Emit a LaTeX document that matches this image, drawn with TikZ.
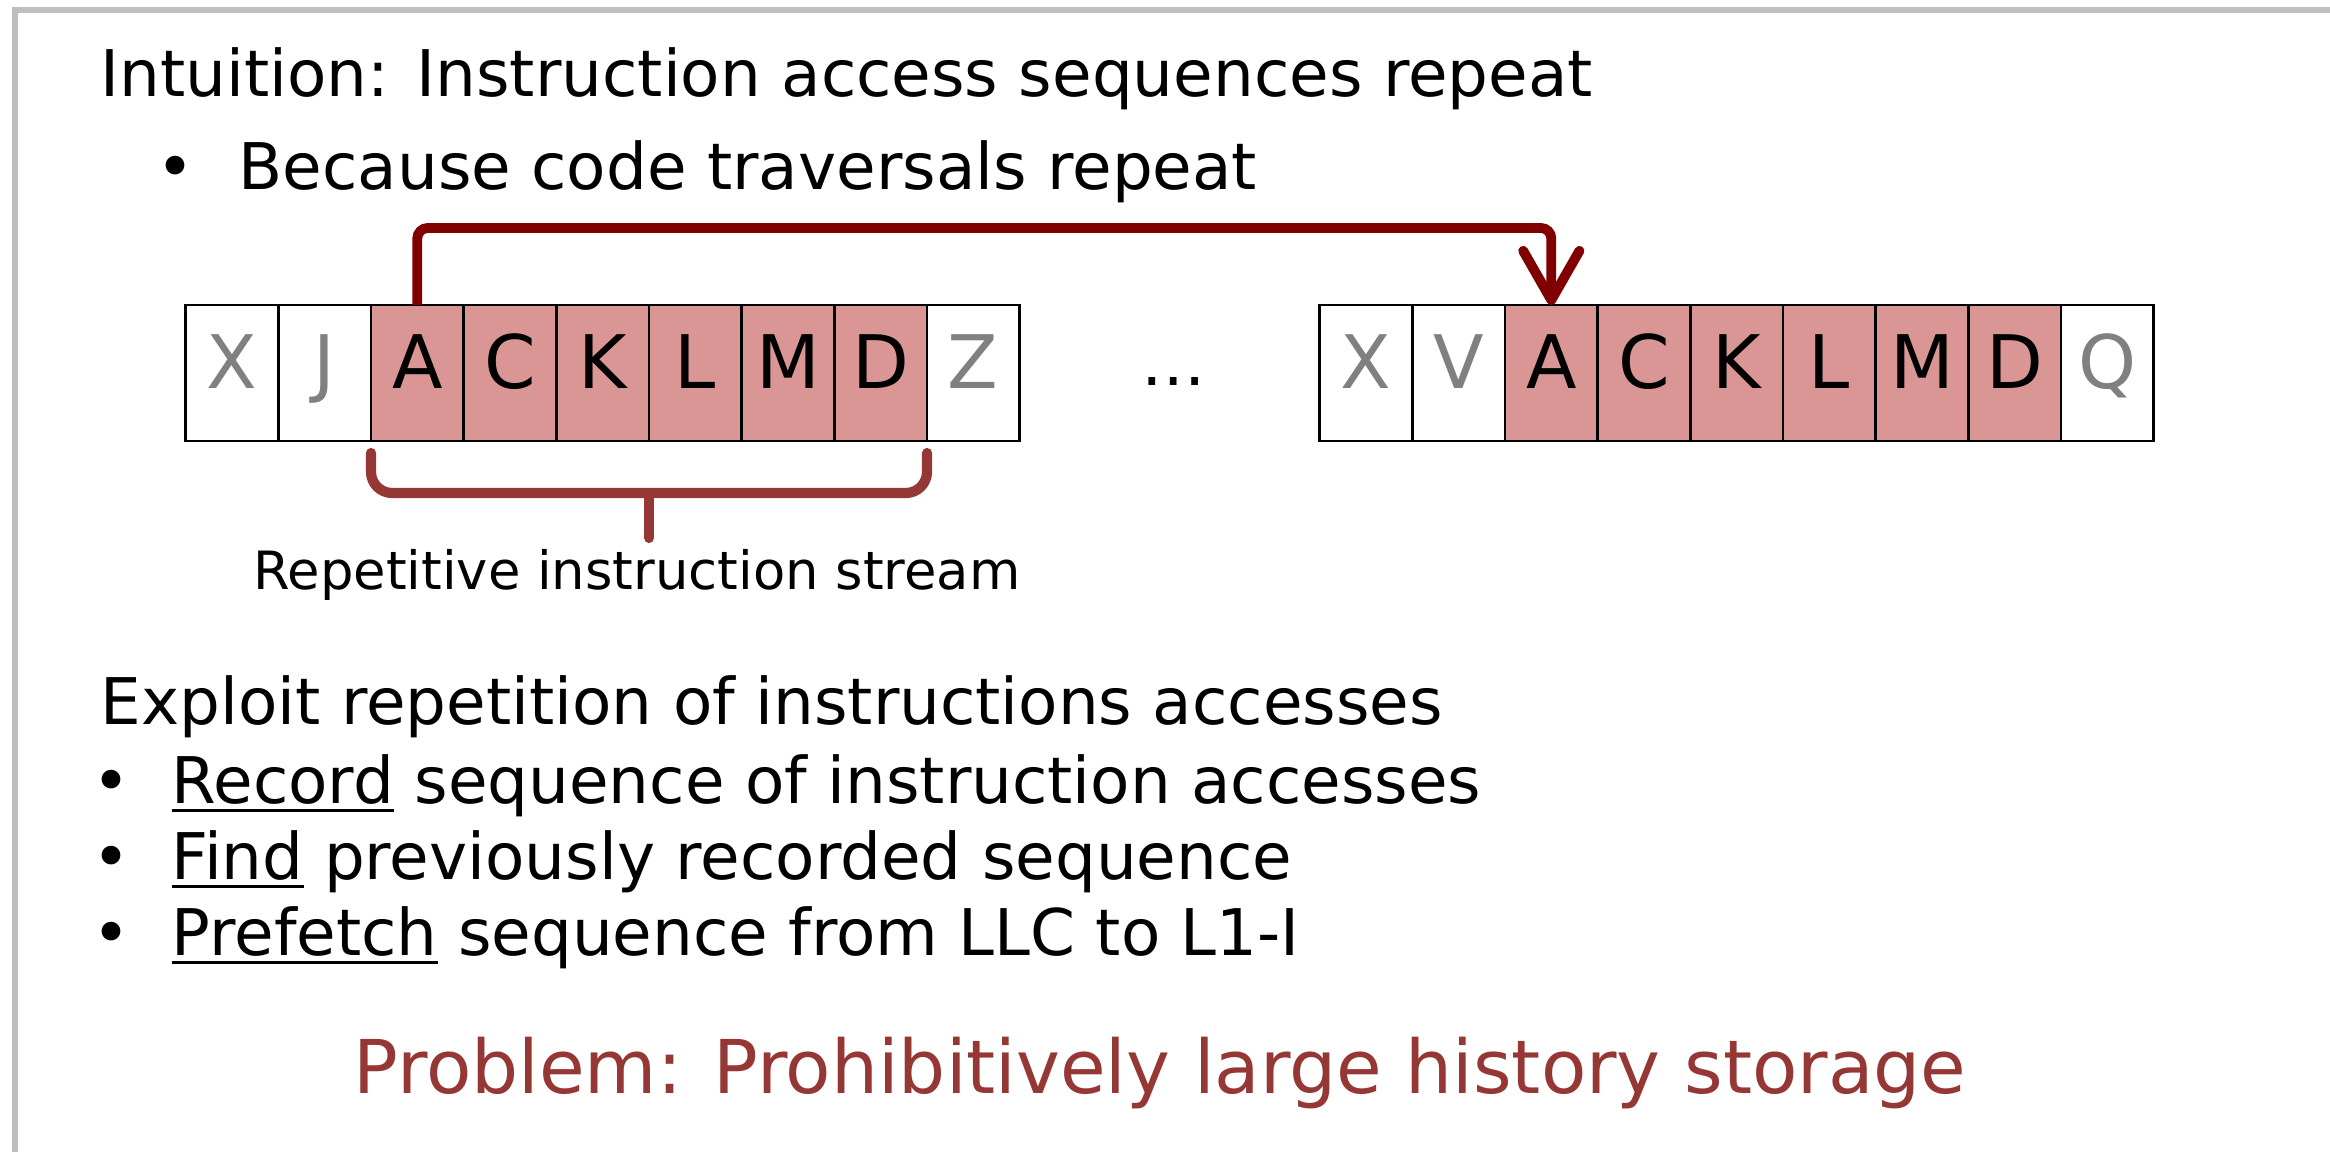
\documentclass[tikz,border=0pt]{standalone}
\usepackage{fontspec}
\setmainfont{DejaVu Sans}
\usetikzlibrary{positioning, arrows.meta}

\definecolor{hilite}{RGB}{217,150,148}
\definecolor{loopred}{RGB}{128,0,0}
\definecolor{bracered}{RGB}{149,55,53}
\definecolor{framegray}{RGB}{191,191,191}
\definecolor{dimgray}{RGB}{128,128,128}

\newcommand{\keyword}[1]{\setbox0\hbox{#1}\rlap{\rule[-0.09cm]{\wd0}{0.035cm}}\box0\relax}

\begin{document}
\begin{tikzpicture}[
        x=0.01cm, y=-0.01cm,
        cell/.style={draw, line width=0.8pt, minimum width=0.926cm, minimum height=1.36cm, inner sep=0pt, outer sep=0pt, text height=0.45cm, text depth=0.15cm, font=\fontsize{21}{25}\selectfont},
        seq/.style={cell, fill=hilite},
        other/.style={cell, fill=white, text=dimgray},
        body/.style={anchor=base west, inner sep=0pt, font=\fontsize{18.3}{22}\selectfont},
        loopback/.style={-{Straight Barb[length=14pt, width=16pt, round]}, line width=2.8pt, loopred, rounded corners=3pt},
        bracket/.style={line width=2.9pt, bracered, rounded corners=6pt, line cap=round}
    ]
        \useasboundingbox (0,0) rectangle (2330,1152);

        % Frame
        \draw[framegray, line width=1.5pt] (15,1152) -- (15,10) -- (2330,10);

        % Text
        \node[body] (intuition) at (100,97) {Intuition: Instruction access sequences repeat};
        \node[body] (because) at (238,190) {\llap{\textbullet\hspace{0.44cm}}Because code traversals repeat};

        % First access sequence
        \node[other] (a1) at (232,373) {X};
        \node[other, right=0pt of a1] (a2) {J};
        \node[seq, right=0pt of a2] (a3) {A};
        \node[seq, right=0pt of a3] (a4) {C};
        \node[seq, right=0pt of a4] (a5) {K};
        \node[seq, right=0pt of a5] (a6) {L};
        \node[seq, right=0pt of a6] (a7) {M};
        \node[seq, right=0pt of a7] (a8) {D};
        \node[other, right=0pt of a8] (a9) {Z};

        \node[body, anchor=base] (gap) at (1174,386) {…};

        % Repeated sequence
        \node[other] (b1) at (1366,373) {X};
        \node[other, right=0pt of b1] (b2) {V};
        \node[seq, right=0pt of b2] (b3) {A};
        \node[seq, right=0pt of b3] (b4) {C};
        \node[seq, right=0pt of b4] (b5) {K};
        \node[seq, right=0pt of b5] (b6) {L};
        \node[seq, right=0pt of b6] (b7) {M};
        \node[seq, right=0pt of b7] (b8) {D};
        \node[other, right=0pt of b8] (b9) {Q};

        % Repetition
        \draw[loopback] (a3.north) -- ++(0,-77) -| (b3.north);

        % Brace under the stream
        \draw[bracket] (371,453) -- (371,493) -- (927,493) -- (927,453);
        \draw[bracket] (649,493) -- (649,538);
        \node[anchor=base, inner sep=0pt, font=\fontsize{15}{18}\selectfont] (streamlabel) at (637,590) {Repetitive instruction stream};

        \node[body] (exploit) at (100,724) {Exploit repetition of instructions accesses};
        \node[body] (record) at (171,803) {\llap{\textbullet\hspace{0.41cm}}\keyword{Record} sequence of instruction accesses};
        \node[body] (find) at (171,879) {\llap{\textbullet\hspace{0.41cm}}\keyword{Find} previously recorded sequence};
        \node[body] (prefetch) at (171,955) {\llap{\textbullet\hspace{0.41cm}}\keyword{Prefetch} sequence from LLC to L1-I};

        \node[anchor=base, inner sep=0pt, text=bracered, font=\fontsize{21.1}{25}\selectfont] (problem) at (1160,1093) {Problem: Prohibitively large history storage};

    \end{tikzpicture}
\end{document}
